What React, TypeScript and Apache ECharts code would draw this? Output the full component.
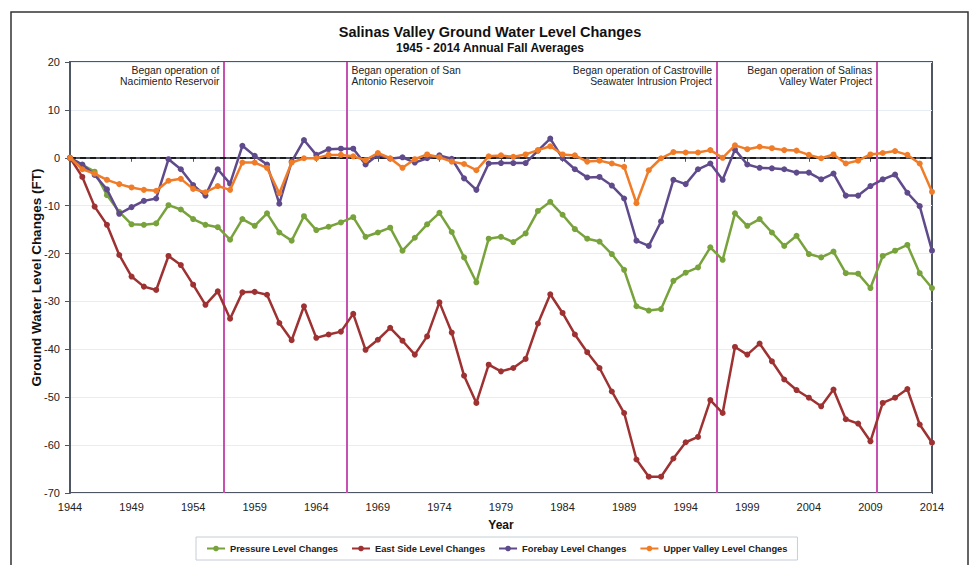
import React, { useEffect, useRef } from "react";
import * as echarts from "echarts";

const START_YEAR = 1944;
const years: number[] = Array.from({ length: 71 }, (_, i) => START_YEAR + i);

// 1944 .. 2014
const pressure = [
  0, -1.5, -2.9, -7.8, -11.3, -13.9, -14.0, -13.7, -9.9, -10.8,
  -12.8, -14.0, -14.5, -17.1, -12.8, -14.2, -11.6, -15.6, -17.3, -12.2,
  -15.1, -14.4, -13.5, -12.4, -16.5, -15.6, -14.6, -19.4, -16.7, -13.9,
  -11.5, -15.5, -20.8, -26.0, -16.9, -16.5, -17.6, -15.8, -11.1, -9.2,
  -11.9, -14.9, -16.9, -17.5, -20.1, -23.4, -31.0, -31.9, -31.6, -25.7,
  -24.0, -22.9, -18.7, -21.3, -11.6, -14.2, -12.8, -15.6, -18.4, -16.3,
  -20.1, -20.8, -19.6, -24.1, -24.2, -27.2, -20.5, -19.4, -18.2, -24.1,
  -27.2,
];
const eastSide = [
  0, -4.0, -10.2, -14.0, -20.3, -24.8, -26.9, -27.6, -20.5, -22.4,
  -26.5, -30.7, -27.9, -33.6, -28.1, -28.0, -28.6, -34.5, -38.1, -31.0,
  -37.6, -36.9, -36.3, -32.6, -40.1, -38.0, -35.5, -38.2, -41.1, -37.3,
  -30.2, -36.5, -45.5, -51.2, -43.2, -44.6, -43.9, -42.0, -34.6, -28.5,
  -32.4, -36.9, -40.6, -43.9, -48.8, -53.3, -63.0, -66.6, -66.6, -62.8,
  -59.4, -58.3, -50.6, -53.3, -39.5, -41.1, -38.8, -42.5, -46.3, -48.5,
  -50.1, -51.9, -48.4, -54.6, -55.5, -59.2, -51.2, -50.1, -48.3, -55.7,
  -59.5,
];
const forebay = [
  0, -1.4, -3.6, -6.6, -11.7, -10.3, -9.0, -8.5, -0.3, -2.4,
  -5.7, -7.9, -2.4, -5.4, 2.5, 0.4, -1.4, -9.6, -0.8, 3.7,
  0.6, 1.8, 1.9, 1.9, -1.4, 0.6, -0.2, 0.1, -1.0, -0.1,
  0.5, -0.2, -4.3, -6.7, -1.2, -1.1, -1.1, -1.1, 1.5, 4.0,
  -0.1, -2.4, -4.1, -4.0, -5.8, -8.5, -17.3, -18.4, -13.3, -4.6,
  -5.5, -2.4, -1.2, -4.6, 1.7, -1.4, -2.1, -2.2, -2.4, -3.1,
  -3.1, -4.5, -3.3, -7.9, -7.9, -5.9, -4.5, -3.5, -7.3, -10.1,
  -19.4,
];
const upperValley = [
  0, -2.4, -3.3, -4.6, -5.5, -6.2, -6.7, -6.9, -4.8, -4.4,
  -6.5, -7.2, -5.9, -6.7, -1.0, -1.0, -2.1, -7.4, -1.0, -0.1,
  -0.1, 0.6, 0.6, 0.3, -0.5, 1.0, -0.1, -2.1, -0.3, 0.7,
  0.1, -0.8, -1.3, -2.6, 0.3, 0.5, 0.2, 0.7, 1.6, 2.4,
  0.7, 0.5, -0.8, -0.6, -1.2, -1.9, -9.5, -2.6, -0.1, 1.2,
  1.1, 1.1, 1.6, 0.0, 2.6, 1.8, 2.3, 2.0, 1.6, 1.5,
  0.6, -0.1, 0.7, -1.2, -0.6, 0.7, 1.0, 1.4, 0.6, -1.2,
  -7.1,
];

const seriesNames = [
  "Pressure Level Changes",
  "East Side Level Changes",
  "Forebay Level Changes",
  "Upper Valley Level Changes",
];
const seriesValues = [pressure, eastSide, forebay, upperValley];
const seriesColors = ["#78a33c", "#9e3232", "#5f4b8b", "#f07c28"];

const eventYears = [1956.5, 1966.5, 1996.5, 2009.5];
const eventLabels = [
  "Began operation of\nNacimiento Reservoir",
  "Began operation of San\nAntonio Reservoir",
  "Began operation of Castroville\nSeawater Intrusion Project",
  "Began operation of Salinas\nValley Water Project",
];
const eventTextOnRight = [false, true, false, false];

const Y_MIN = -70;
const Y_MAX = 20;
const Y_STEP = 10;
const X_STEP = 5;

const FONT = "'Liberation Sans', Arial, Helvetica, sans-serif";

export default function App() {
  const ref = useRef<HTMLDivElement>(null);

  useEffect(() => {
    if (!ref.current) return;
    const chart = echarts.init(ref.current, undefined, { renderer: "svg" });
    const lastOffset = years[years.length - 1] - START_YEAR;

    const series: any[] = seriesNames.map((name, si) => ({
      name,
      type: "line",
      data: years.map((y, i) => [y - START_YEAR, seriesValues[si][i]]),
      symbol: "circle",
      symbolSize: 6,
      showSymbol: true,
      lineStyle: { color: seriesColors[si], width: 2.5 },
      itemStyle: { color: seriesColors[si], borderWidth: 0 },
      z: 3 + si,
    }));

    series[0].markLine = {
      silent: true,
      symbol: ["none", "none"],
      label: { show: false },
      z: 2,
      data: [
        ...eventYears.map((ey) => ({
          xAxis: ey - START_YEAR,
          lineStyle: { color: "#c850b0", width: 2, type: "solid" },
        })),
        {
          yAxis: 0,
          lineStyle: { color: "#1a1a1a", width: 2, type: [6, 4] },
        },
      ],
    };
    series[0].markPoint = {
      silent: true,
      symbol: "circle",
      symbolSize: 1,
      itemStyle: { color: "rgba(0,0,0,0)" },
      data: eventYears.map((ey, i) => ({
        coord: [ey - START_YEAR, Y_MAX],
        label: {
          show: true,
          formatter: eventLabels[i],
          position: eventTextOnRight[i] ? [5, 3] : [-4, 3],
          align: eventTextOnRight[i] ? "left" : "right",
          verticalAlign: "top",
          fontSize: 10.4,
          lineHeight: 11.5,
          color: "#222",
          fontFamily: FONT,
        },
      })),
    };

    chart.setOption({
      animation: false,
      backgroundColor: "#ffffff",
      textStyle: { fontFamily: FONT },
      title: {
        text: "Salinas Valley Ground Water Level Changes",
        subtext: "1945 - 2014 Annual Fall Averages",
        left: 485,
        textAlign: "center",
        top: 19,
        itemGap: 3,
        textStyle: { fontSize: 14.5, fontWeight: "bold", color: "#111", fontFamily: FONT },
        subtextStyle: { fontSize: 12, fontWeight: "bold", color: "#111", fontFamily: FONT },
      },
      graphic: [
        {
          type: "rect",
          shape: { x: 11, y: 12, width: 957, height: 580 },
          style: { fill: "none", stroke: "#333", lineWidth: 1.5 },
          silent: true,
          z: -10,
        },
      ],
      legend: {
        data: seriesNames,
        left: 196,
        top: 537,
        orient: "horizontal",
        padding: [7, 10],
        itemGap: 13,
        itemWidth: 18,
        itemHeight: 7,
        borderColor: "#c5ced9",
        borderWidth: 1,
        textStyle: { fontSize: 9.3, fontWeight: "bold", color: "#222", fontFamily: FONT },
      },
      grid: {
        left: 70,
        top: 62,
        width: 862,
        height: 431,
        show: true,
        borderColor: "#4f5663",
        borderWidth: 2,
        containLabel: false,
      },
      xAxis: {
        type: "value",
        min: 0,
        max: lastOffset,
        interval: X_STEP,
        name: "Year",
        nameLocation: "middle",
        nameGap: 26,
        nameMoveOverlap: false,
        nameTextStyle: { fontSize: 12, fontWeight: "bold", color: "#111", fontFamily: FONT },
        axisLine: { show: true, lineStyle: { color: "#4f5663", width: 2 } },
        axisTick: { show: true, length: 4, lineStyle: { color: "#4f5663" } },
        axisLabel: {
          formatter: (v: number) => String(v + START_YEAR),
          fontSize: 11,
          color: "#222",
          margin: 8,
          fontFamily: FONT,
        },
        splitLine: { show: false },
      },
      yAxis: {
        type: "value",
        min: Y_MIN,
        max: Y_MAX,
        interval: Y_STEP,
        name: "Ground Water Level Changes (FT)",
        nameLocation: "middle",
        nameGap: 27,
        nameMoveOverlap: false,
        nameTextStyle: { fontSize: 13.5, fontWeight: "bold", color: "#111", fontFamily: FONT },
        axisLine: { show: true, lineStyle: { color: "#4f5663", width: 2 } },
        axisTick: { show: true, length: 5, lineStyle: { color: "#4f5663" } },
        axisLabel: { fontSize: 11, color: "#222", margin: 10, fontFamily: FONT },
        splitLine: { show: true, lineStyle: { color: "#e6edf4", width: 1 } },
      },
      series,
    });

    return () => {
      chart.dispose();
    };
  }, []);

  return (
    <div
      ref={ref}
      style={{ position: "absolute", left: 0, top: 0, width: 979, height: 565 }}
    />
  );
}
